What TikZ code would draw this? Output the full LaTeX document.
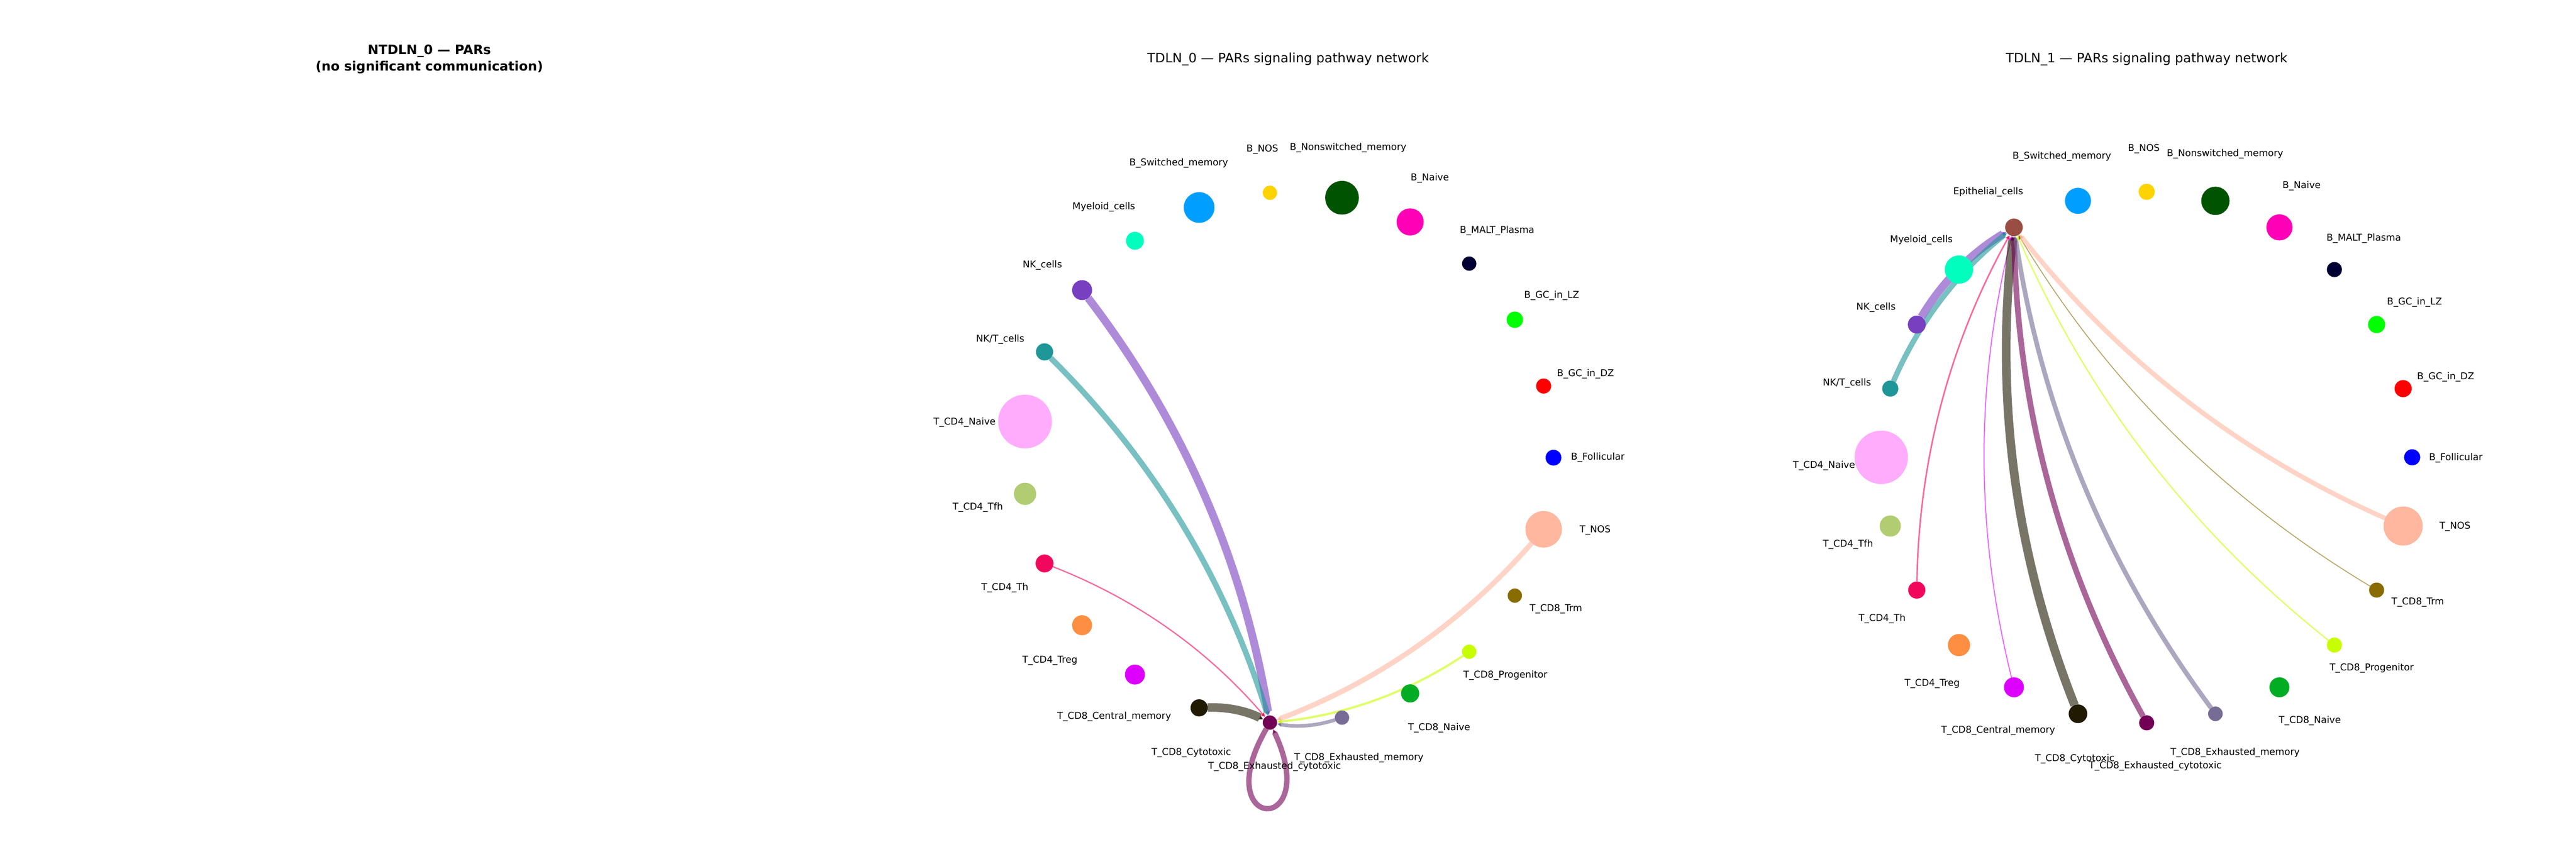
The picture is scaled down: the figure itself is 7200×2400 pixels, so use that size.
\documentclass[tikz,border=0pt]{standalone}
\usepackage{fontspec}
\setmainfont{DejaVu Sans}
\usetikzlibrary{calc}
\usetikzlibrary{arrows.meta}
\usetikzlibrary{backgrounds}

\definecolor{cFol}{HTML}{0000FF}
\definecolor{cGCDZ}{HTML}{FF0000}
\definecolor{cGCLZ}{HTML}{00FF00}
\definecolor{cMALT}{HTML}{000033}
\definecolor{cBNaive}{HTML}{FF00B6}
\definecolor{cNonsw}{HTML}{005300}
\definecolor{cBNOS}{HTML}{FFD300}
\definecolor{cSw}{HTML}{009FFF}
\definecolor{cEpi}{HTML}{9A4D42}
\definecolor{cMye}{HTML}{00FFBE}
\definecolor{cNK}{HTML}{783FC1}
\definecolor{cNKT}{HTML}{1F9698}
\definecolor{cCDN}{HTML}{FFACFD}
\definecolor{cTfh}{HTML}{B1CC71}
\definecolor{cTh}{HTML}{F1085C}
\definecolor{cTreg}{HTML}{FE8F42}
\definecolor{cCM}{HTML}{DD00FF}
\definecolor{cCyto}{HTML}{201A01}
\definecolor{cExC}{HTML}{720055}
\definecolor{cExM}{HTML}{766C95}
\definecolor{cCDEN}{HTML}{02AD24}
\definecolor{cProg}{HTML}{C8FF00}
\definecolor{cTrm}{HTML}{886C00}
\definecolor{cTNOS}{HTML}{FFB79F}

\begin{document}
\begin{tikzpicture}[x=0.24pt,y=0.24pt,
			flow/.style={-{Triangle[length=3pt,width=3pt]},draw opacity=0.6},
			bent/.style={bend left=14,looseness=0.88}]
			\tikzstyle{cell}=[circle,inner sep=0pt,outer sep=0pt]
			\tikzstyle{lbl}=[font=\fontsize{6.35}{7.6}\selectfont,inner sep=0pt,text height=4.6pt,text depth=0pt]
			\tikzstyle{ttl}=[font=\fontsize{8.7}{11}\selectfont,inner sep=0pt]
			
			\useasboundingbox (0,0) rectangle (7200,2400);
			
			% titles
			\node[ttl,align=center,font=\fontsize{8.7}{11}\selectfont\bfseries] (T_0) at (1200,2235) {NTDLN\_0 — PARs\\(no significant communication)};
			\node[ttl] (T_1) at (3600,2235) {TDLN\_0 — PARs signaling pathway network};
			\node[ttl] (T_2) at (6000,2235) {TDLN\_1 — PARs signaling pathway network};
			
			% TDLN_0
			\begin{scope}[shift={(3600,1121)}]
			\node[cell,fill=cFol,minimum size=10.6pt]   (M_0)  at ({0*360/23}:742)  {};
			\node[cell,fill=cGCDZ,minimum size=10.1pt]  (M_1)  at ({1*360/23}:742)  {};
			\node[cell,fill=cGCLZ,minimum size=11pt]    (M_2)  at ({2*360/23}:742)  {};
			\node[cell,fill=cMALT,minimum size=9.6pt]   (M_3)  at ({3*360/23}:742)  {};
			\node[cell,fill=cBNaive,minimum size=18.2pt] (M_4) at ({4*360/23}:742)  {};
			\node[cell,fill=cNonsw,minimum size=22.6pt] (M_5)  at ({5*360/23}:742)  {};
			\node[cell,fill=cBNOS,minimum size=9.6pt]   (M_6)  at ({6*360/23}:742)  {};
			\node[cell,fill=cSw,minimum size=20.6pt]    (M_7)  at ({7*360/23}:742)  {};
			\node[cell,fill=cMye,minimum size=12pt]     (M_8)  at ({8*360/23}:742)  {};
			\node[cell,fill=cNK,minimum size=13.4pt]    (M_9)  at ({9*360/23}:742)  {};
			\node[cell,fill=cNKT,minimum size=11.5pt]   (M_10) at ({10*360/23}:742) {};
			\node[cell,fill=cCDN,minimum size=36pt]     (M_11) at ({11*360/23}:742) {};
			\node[cell,fill=cTfh,minimum size=14.9pt]   (M_12) at ({12*360/23}:742) {};
			\node[cell,fill=cTh,minimum size=12pt]      (M_13) at ({13*360/23}:742) {};
			\node[cell,fill=cTreg,minimum size=13.4pt]  (M_14) at ({14*360/23}:742) {};
			\node[cell,fill=cCM,minimum size=13.4pt]    (M_15) at ({15*360/23}:742) {};
			\node[cell,fill=cCyto,minimum size=11.5pt]  (M_16) at ({16*360/23}:742) {};
			\node[cell,fill=cExC,minimum size=9.6pt]    (M_17) at ({17*360/23}:742) {};
			\node[cell,fill=cExM,minimum size=9.6pt]    (M_18) at ({18*360/23}:742) {};
			\node[cell,fill=cCDEN,minimum size=12.2pt]  (M_19) at ({19*360/23}:742) {};
			\node[cell,fill=cProg,minimum size=9.6pt]   (M_20) at ({20*360/23}:742) {};
			\node[cell,fill=cTrm,minimum size=9.6pt]    (M_21) at ({21*360/23}:742) {};
			\node[cell,fill=cTNOS,minimum size=24.5pt]  (M_22) at ({22*360/23}:742) {};
			\end{scope}
			
			\node[lbl] (ML_0)  at ($(M_0)+(124,3)$)     {B\_Follicular};
			\node[lbl] (ML_1)  at ($(M_1)+(117,37)$)    {B\_GC\_in\_DZ};
			\node[lbl] (ML_2)  at ($(M_2)+(103,70)$)    {B\_GC\_in\_LZ};
			\node[lbl] (ML_3)  at ($(M_3)+(78,94)$)     {B\_MALT\_Plasma};
			\node[lbl] (ML_4)  at ($(M_4)+(55,125)$)    {B\_Naive};
			\node[lbl] (ML_5)  at ($(M_5)+(17,142)$)    {B\_Nonswitched\_memory};
			\node[lbl] (ML_6)  at ($(M_6)+(-21,124)$)   {B\_NOS};
			\node[lbl] (ML_7)  at ($(M_7)+(-57,127)$)   {B\_Switched\_memory};
			\node[lbl] (ML_8)  at ($(M_8)+(-87,97)$)    {Myeloid\_cells};
			\node[lbl] (ML_9)  at ($(M_9)+(-111,72)$)   {NK\_cells};
			\node[lbl] (ML_10) at ($(M_10)+(-124,37)$)  {NK/T\_cells};
			\node[lbl] (ML_11) at ($(M_11)+(-169,0)$)   {T\_CD4\_Naive};
			\node[lbl] (ML_12) at ($(M_12)+(-132,-35)$) {T\_CD4\_Tfh};
			\node[lbl] (ML_13) at ($(M_13)+(-111,-65)$) {T\_CD4\_Th};
			\node[lbl] (ML_14) at ($(M_14)+(-90,-96)$)  {T\_CD4\_Treg};
			\node[lbl] (ML_15) at ($(M_15)+(-58,-115)$) {T\_CD8\_Central\_memory};
			\node[lbl] (ML_16) at ($(M_16)+(-22,-123)$) {T\_CD8\_Cytotoxic};
			\node[lbl] (ML_17) at ($(M_17)+(13,-120)$)  {T\_CD8\_Exhausted\_cytotoxic};
			\node[lbl] (ML_18) at ($(M_18)+(47,-110)$)  {T\_CD8\_Exhausted\_memory};
			\node[lbl] (ML_19) at ($(M_19)+(81,-94)$)   {T\_CD8\_Naive};
			\node[lbl] (ML_20) at ($(M_20)+(101,-64)$)  {T\_CD8\_Progenitor};
			\node[lbl] (ML_21) at ($(M_21)+(115,-34)$)  {T\_CD8\_Trm};
			\node[lbl] (ML_22) at ($(M_22)+(144,1)$)    {T\_NOS};
			
			% TDLN_1
			\begin{scope}[shift={(6000,1122)}]
			\node[cell,fill=cFol,minimum size=10.8pt]   (R_0)  at (0:742)   {};
			\node[cell,fill=cGCDZ,minimum size=11.5pt]  (R_1)  at (15:742)  {};
			\node[cell,fill=cGCLZ,minimum size=11.5pt]  (R_2)  at (30:742)  {};
			\node[cell,fill=cMALT,minimum size=10.1pt]  (R_3)  at (45:742)  {};
			\node[cell,fill=cBNaive,minimum size=17.5pt] (R_4) at (60:742)  {};
			\node[cell,fill=cNonsw,minimum size=19pt]   (R_5)  at (75:742)  {};
			\node[cell,fill=cBNOS,minimum size=10.8pt]  (R_6)  at (90:742)  {};
			\node[cell,fill=cSw,minimum size=17.5pt]    (R_7)  at (105:742) {};
			\node[cell,fill=cEpi,minimum size=11.8pt]   (R_8)  at (120:742) {};
			\node[cell,fill=cMye,minimum size=19pt]     (R_9)  at (135:742) {};
			\node[cell,fill=cNK,minimum size=12pt]      (R_10) at (150:742) {};
			\node[cell,fill=cNKT,minimum size=10.8pt]   (R_11) at (165:742) {};
			\node[cell,fill=cCDN,minimum size=35.8pt]   (R_12) at (180:742) {};
			\node[cell,fill=cTfh,minimum size=14.2pt]   (R_13) at (195:742) {};
			\node[cell,fill=cTh,minimum size=11.5pt]    (R_14) at (210:742) {};
			\node[cell,fill=cTreg,minimum size=14.9pt]  (R_15) at (225:742) {};
			\node[cell,fill=cCM,minimum size=13.4pt]    (R_16) at (240:742) {};
			\node[cell,fill=cCyto,minimum size=12.5pt]  (R_17) at (255:742) {};
			\node[cell,fill=cExC,minimum size=10.1pt]   (R_18) at (270:742) {};
			\node[cell,fill=cExM,minimum size=9.8pt]    (R_19) at (285:742) {};
			\node[cell,fill=cCDEN,minimum size=13.4pt]  (R_20) at (300:742) {};
			\node[cell,fill=cProg,minimum size=10.1pt]  (R_21) at (315:742) {};
			\node[cell,fill=cTrm,minimum size=10.1pt]   (R_22) at (330:742) {};
			\node[cell,fill=cTNOS,minimum size=26.2pt]  (R_23) at (345:742) {};
			\end{scope}
			
			\node[lbl] (RL_0)  at ($(R_0)+(122,1)$)     {B\_Follicular};
			\node[lbl] (RL_1)  at ($(R_1)+(119,35)$)    {B\_GC\_in\_DZ};
			\node[lbl] (RL_2)  at ($(R_2)+(106,65)$)    {B\_GC\_in\_LZ};
			\node[lbl] (RL_3)  at ($(R_3)+(82,90)$)     {B\_MALT\_Plasma};
			\node[lbl] (RL_4)  at ($(R_4)+(62,118)$)    {B\_Naive};
			\node[lbl] (RL_5)  at ($(R_5)+(27,134)$)    {B\_Nonswitched\_memory};
			\node[lbl] (RL_6)  at ($(R_6)+(-8,123)$)    {B\_NOS};
			\node[lbl] (RL_7)  at ($(R_7)+(-45,127)$)   {B\_Switched\_memory};
			\node[lbl] (RL_8)  at ($(R_8)+(-72,102)$)   {Epithelial\_cells};
			\node[lbl] (RL_9)  at ($(R_9)+(-105,86)$)   {Myeloid\_cells};
			\node[lbl] (RL_10) at ($(R_10)+(-114,51)$)  {NK\_cells};
			\node[lbl] (RL_11) at ($(R_11)+(-121,17)$)  {NK/T\_cells};
			\node[lbl] (RL_12) at ($(R_12)+(-160,-21)$) {T\_CD4\_Naive};
			\node[lbl] (RL_13) at ($(R_13)+(-118,-49)$) {T\_CD4\_Tfh};
			\node[lbl] (RL_14) at ($(R_14)+(-97,-77)$)  {T\_CD4\_Th};
			\node[lbl] (RL_15) at ($(R_15)+(-75,-105)$) {T\_CD4\_Treg};
			\node[lbl] (RL_16) at ($(R_16)+(-44,-118)$) {T\_CD8\_Central\_memory};
			\node[lbl] (RL_17) at ($(R_17)+(-9,-123)$)  {T\_CD8\_Cytotoxic};
			\node[lbl] (RL_18) at ($(R_18)+(24,-118)$)  {T\_CD8\_Exhausted\_cytotoxic};
			\node[lbl] (RL_19) at ($(R_19)+(55,-106)$)  {T\_CD8\_Exhausted\_memory};
			\node[lbl] (RL_20) at ($(R_20)+(85,-91)$)   {T\_CD8\_Naive};
			\node[lbl] (RL_21) at ($(R_21)+(104,-62)$)  {T\_CD8\_Progenitor};
			\node[lbl] (RL_22) at ($(R_22)+(115,-31)$)  {T\_CD8\_Trm};
			\node[lbl] (RL_23) at ($(R_23)+(145,1)$)    {T\_NOS};
			
			\begin{pgfonlayer}{background}
			\fill[white] (0,0) rectangle (7200,2400);
			% signals into T_CD8_Exhausted_cytotoxic
			\path (M_9)  edge[flow,bent,draw=cNK,line width=5.3pt]   (M_17)
			(M_10) edge[flow,bent,draw=cNKT,line width=3.8pt]  (M_17)
			(M_13) edge[flow,bent,draw=cTh,line width=0.85pt]  (M_17)
			(M_16) edge[flow,bent,draw=cCyto,line width=5.8pt] (M_17)
			(M_18) edge[flow,bent,draw=cExM,line width=2.4pt]  (M_17)
			(M_20) edge[flow,bent,draw=cProg,line width=1.45pt] (M_17)
			(M_22) edge[flow,bent,draw=cTNOS,line width=3.4pt] (M_17)
			(M_17) edge[flow,draw=cExC,line width=3.6pt,out=-120,in=-65,min distance=80pt] (M_17);
			% signals into Epithelial_cells
			\path (R_10) edge[flow,bent,draw=cNK,line width=5.3pt]   (R_8)
			(R_11) edge[flow,bent,draw=cNKT,line width=3.6pt]  (R_8)
			(R_14) edge[flow,bent,draw=cTh,line width=1pt]     (R_8)
			(R_16) edge[flow,bent,draw=cCM,line width=0.7pt]   (R_8)
			(R_17) edge[flow,bent,draw=cCyto,line width=5.8pt] (R_8)
			(R_18) edge[flow,bent,draw=cExC,line width=3.8pt]  (R_8)
			(R_19) edge[flow,bent,draw=cExM,line width=3.1pt]  (R_8)
			(R_21) edge[flow,bent,draw=cProg,line width=0.85pt] (R_8)
			(R_22) edge[flow,bent,draw=cTrm,line width=0.6pt]  (R_8)
			(R_23) edge[flow,bent,draw=cTNOS,line width=3.1pt] (R_8);
			\end{pgfonlayer}
\end{tikzpicture}
\end{document}
